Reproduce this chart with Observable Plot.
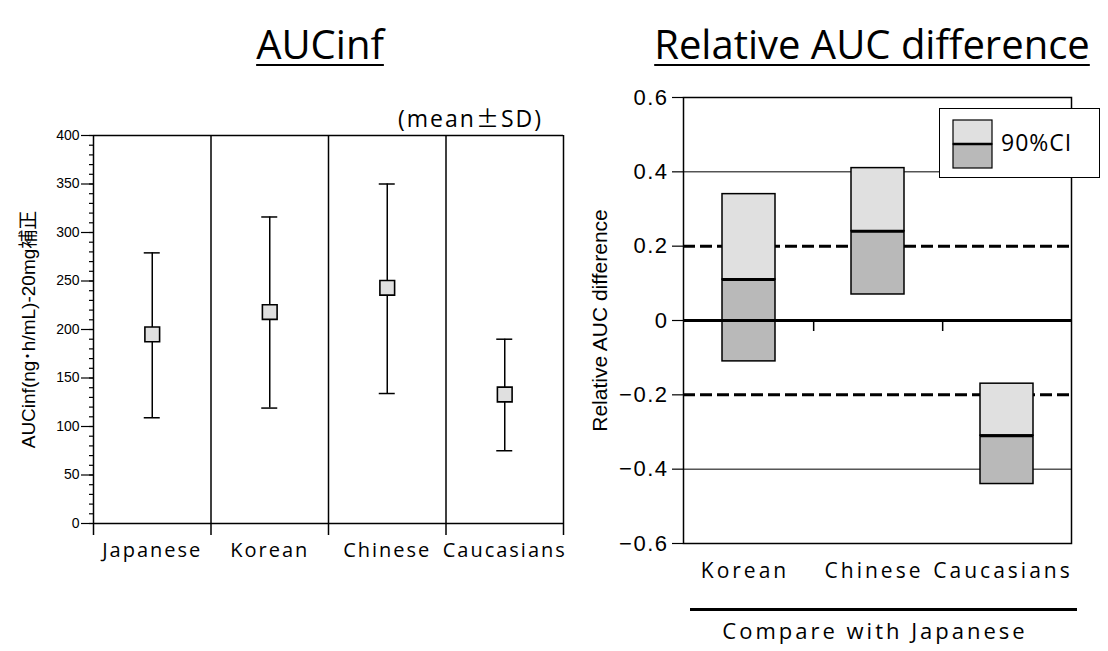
<!DOCTYPE html>
<html>
<head>
<meta charset="utf-8">
<script src="https://cdn.jsdelivr.net/npm/d3@7"></script>
<script src="https://cdn.jsdelivr.net/npm/@observablehq/plot@0.6"></script>
<style>
  html, body { margin: 0; padding: 0; background: #fff; }
  #root { position: relative; width: 1108px; height: 651px; background: #fff; overflow: hidden; font-family: "Open Sans", sans-serif; color: #000; }
  .abs { position: absolute; white-space: nowrap; }
  .title { font-size: 40px; line-height: 40px; text-decoration: underline; text-decoration-thickness: 2px; text-underline-offset: 5px; transform: translateX(-50%); }
  .cats [aria-label="x-axis tick label"] text { letter-spacing: 2px; }
  .cats2 [aria-label="x-axis tick label"] text { letter-spacing: 3px; }
  .cats2 [aria-label="y-axis tick label"] text { letter-spacing: 1.5px; }
</style>
</head>
<body>
<div id="root"></div>
<script>
// ---------- data ----------
const leftCats = ["Japanese", "Korean", "Chinese", "Caucasians"];
const aucMean  = [195, 218, 243, 133];
const aucUpper = [279, 316, 350, 190];
const aucLower = [109, 119, 134, 75];
const leftYTicks = [0, 50, 100, 150, 200, 250, 300, 350, 400];
const leftYMinor = d3.range(0, 401, 10);
const leftYDomain = [0, 400];

const rightCats = ["Korean", "Chinese", "Caucasians"];
const ciLower = [-0.11, 0.07, -0.44];
const ciPoint = [0.11, 0.24, -0.31];
const ciUpper = [0.34, 0.41, -0.17];
const rightYTicks = [-0.6, -0.4, -0.2, 0, 0.2, 0.4, 0.6];
const rightYDomain = [-0.6, 0.6];
const thinRefs = [-0.4, 0.4];
const dashedRefs = [-0.2, 0.2];
const zeroRef = [0];

const lightFill = "#e0e0e0";
const darkFill = "#b9b9b9";

const root = document.getElementById("root");

// ---------- left panel ----------
const leftData = leftCats.map((c, i) => ({cat: c, pos: i + 0.5, mean: aucMean[i], upper: aucUpper[i], lower: aucLower[i]}));

const left = Plot.plot({
  width: 580, height: 470,
  marginLeft: 93, marginRight: 17, marginTop: 35, marginBottom: 47,
  style: {fontFamily: "Liberation Sans, Arial, sans-serif", background: "transparent"},
  x: {domain: [0, leftCats.length], axis: null},
  y: {domain: leftYDomain, axis: null},
  marks: [
    Plot.ruleY(leftYDomain, {stroke: "black", strokeWidth: 1.5}),
    Plot.ruleX(d3.range(leftCats.length + 1), {stroke: "black", strokeWidth: 1.5, insetBottom: -12}),
    Plot.axisY(leftYMinor, {tickSize: 4, text: null, strokeWidth: 1.2, label: null}),
    Plot.axisY(leftYTicks, {tickSize: 12, tickPadding: 2, fontSize: 14, strokeWidth: 1.2, label: null}),
    Plot.axisY([], {tickSize: 0, text: null, fontSize: 19,
      label: "AUCinf(ng･h/mL)-20mg補正", labelAnchor: "center", labelArrow: "none", labelOffset: 72,
      fontFamily: "Liberation Sans, Noto Sans CJK JP, sans-serif"}),
    Plot.axisX(leftData.map(d => d.pos), {tickSize: 0, tickPadding: 19, fontSize: 20,
      fontFamily: "Open Sans, sans-serif", tickFormat: v => leftCats[Math.floor(v)], label: null}),
    Plot.ruleX(leftData, {x: "pos", y1: "lower", y2: "upper", stroke: "black", strokeWidth: 1.5}),
    Plot.ruleY(leftData, {y: "upper", x1: "pos", x2: "pos", insetLeft: -8, insetRight: -8, stroke: "black", strokeWidth: 1.5}),
    Plot.ruleY(leftData, {y: "lower", x1: "pos", x2: "pos", insetLeft: -8, insetRight: -8, stroke: "black", strokeWidth: 1.5}),
    Plot.dot(leftData, {x: "pos", y: "mean", symbol: "square", r: 8.3, fill: lightFill, stroke: "black", strokeWidth: 1.6})
  ]
});
left.classList.add("cats");
left.style.position = "absolute";
left.style.left = "0px";
left.style.top = "100px";
root.appendChild(left);

// ---------- right panel ----------
const rightData = rightCats.map((c, i) => ({cat: c, lower: ciLower[i], point: ciPoint[i], upper: ciUpper[i]}));
const rW = 548, rML = 123, rMR = 37;
const step = (rW - rML - rMR) / rightCats.length;
const fmt = d3.format(".1f");

const right = Plot.plot({
  width: rW, height: 520,
  marginLeft: rML, marginRight: rMR, marginTop: 17, marginBottom: 57,
  style: {fontFamily: "Liberation Sans, Arial, sans-serif", background: "transparent"},
  x: {type: "band", domain: rightCats, paddingInner: 0.59, paddingOuter: 0.295, axis: null},
  y: {domain: rightYDomain, axis: null},
  marks: [
    Plot.ruleY(thinRefs, {stroke: "black", strokeWidth: 1}),
    Plot.ruleY(dashedRefs, {stroke: "black", strokeWidth: 3, strokeDasharray: "12,5"}),
    Plot.barY(rightData, {x: "cat", y1: "point", y2: "upper", fill: lightFill, stroke: "black", strokeWidth: 1.5}),
    Plot.barY(rightData, {x: "cat", y1: "lower", y2: "point", fill: darkFill, stroke: "black", strokeWidth: 1.5}),
    Plot.tickY(rightData, {x: "cat", y: "point", stroke: "black", strokeWidth: 3}),
    Plot.ruleY(zeroRef, {stroke: "black", strokeWidth: 3}),
    Plot.ruleX(rightCats.slice(0, -1), {x: d => d, dx: step / 2, y1: 0, y2: 0, insetBottom: -11, stroke: "black", strokeWidth: 1.5}),
    Plot.frame({stroke: "black", strokeWidth: 1.5}),
    Plot.axisY(rightYTicks, {tickSize: 11, tickPadding: 4, fontSize: 22, strokeWidth: 1.2,
      tickFormat: v => v === 0 ? "0" : fmt(v), label: null}),
    Plot.axisY([], {tickSize: 0, text: null, fontSize: 21,
      label: "Relative AUC difference", labelAnchor: "center", labelArrow: "none", labelOffset: 91}),
    Plot.axisX({tickSize: 0, tickPadding: 20, fontSize: 21, fontFamily: "Open Sans, sans-serif", label: null, dx: -4})
  ]
});
right.classList.add("cats2");
right.style.position = "absolute";
right.style.left = "560px";
right.style.top = "80px";
root.appendChild(right);

// ---------- titles & annotations ----------
function addDiv(html, css, cls = "abs", parent = root) {
  const d = document.createElement("div");
  d.className = cls;
  d.innerHTML = html;
  Object.assign(d.style, css);
  parent.appendChild(d);
  return d;
}
addDiv("AUCinf", {left: "320px", top: "24px"}, "abs title");
addDiv("Relative AUC difference", {left: "872px", top: "24px"}, "abs title");
addDiv('(mean<span style="font-family:\'Noto Sans CJK JP\'">±</span>SD)', {right: "565px", top: "102px", fontSize: "23px", lineHeight: "30px", letterSpacing: "2px",
  fontFamily: "Open Sans, sans-serif"});

// legend
const legend = addDiv("", {left: "939px", top: "108px", width: "159px", height: "68px",
  border: "1.5px solid black", background: "#fff"});
const lsvg = d3.create("svg").attr("width", 50).attr("height", 52)
  .style("position", "absolute").style("left", "12px").style("top", "10px");
lsvg.append("rect").attr("x", 1).attr("y", 1).attr("width", 39).attr("height", 24).attr("fill", lightFill).attr("stroke", "black").attr("stroke-width", 1.2);
lsvg.append("rect").attr("x", 1).attr("y", 25).attr("width", 39).attr("height", 24).attr("fill", darkFill).attr("stroke", "black").attr("stroke-width", 1.2);
lsvg.append("line").attr("x1", 1).attr("x2", 40).attr("y1", 25).attr("y2", 25).attr("stroke", "black").attr("stroke-width", 2.5);
legend.appendChild(lsvg.node());
addDiv("90%CI", {left: "61px", top: "18px", fontSize: "23px", lineHeight: "30px", letterSpacing: "1px"}, "abs", legend);

// bottom group label
addDiv("", {left: "690px", top: "608px", width: "387px", height: "3px", background: "black"});
addDiv("Compare with Japanese", {left: "875px", top: "615px", fontSize: "22px", lineHeight: "30px", letterSpacing: "3px", transform: "translateX(-50%)"});
</script>
</body>
</html>
